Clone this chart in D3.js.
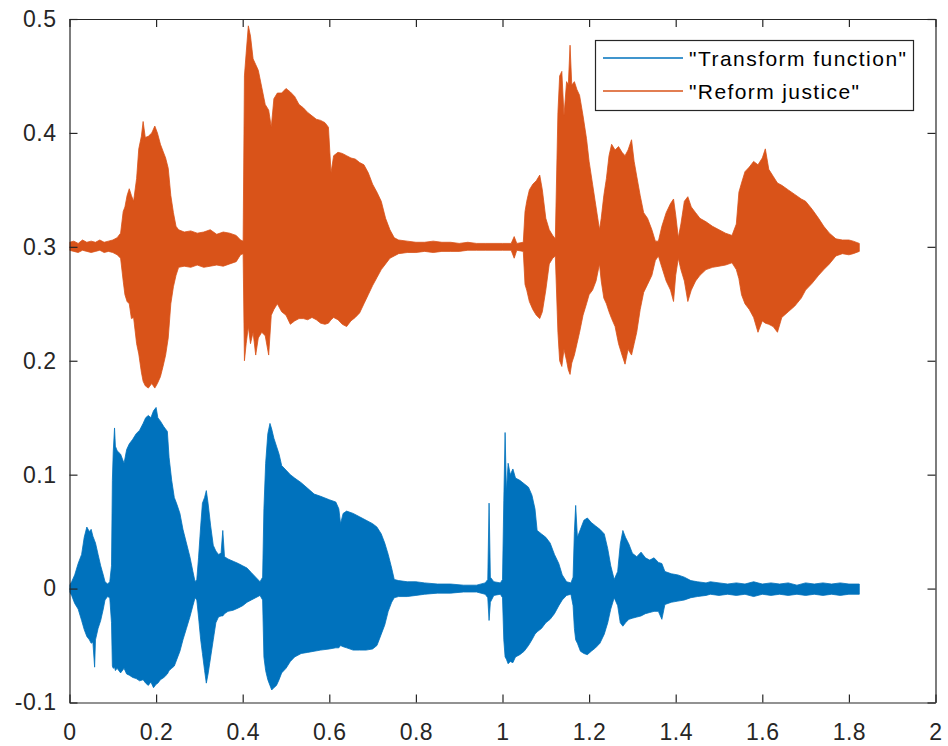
<!DOCTYPE html>
<html>
<head>
<meta charset="utf-8">
<script src="https://cdn.jsdelivr.net/npm/d3@7/dist/d3.min.js"></script>
<style>
  html, body { margin: 0; padding: 0; background: #fff; }
  svg { display: block; }
  text { font-family: "Liberation Sans", Arial, Helvetica, sans-serif; }
</style>
</head>
<body>
<svg id="chart" width="948" height="746"></svg>
<script>
// ---------------- DATA ----------------
// Series names
const seriesNames = ['"Transform function"', '"Reform justice"'];

// Blue series "Transform function": envelope (upper / lower) of the waveform
const blueT = [0.000,0.005,0.012,0.020,0.028,0.034,0.040,0.046,0.050,0.054,0.058,0.060,0.066,0.072,0.078,0.082,0.088,0.093,0.097,0.099,
0.101,0.104,0.106,0.110,0.118,0.126,0.132,0.138,0.146,0.154,0.162,0.170,0.176,0.182,0.188,0.194,0.200,0.204,0.210,0.218,
0.226,0.230,0.236,0.242,0.248,0.255,0.262,0.270,0.278,0.285,0.290,0.294,0.298,0.303,0.307,0.312,0.316,0.320,0.326,0.332,
0.338,0.344,0.350,0.354,0.358,0.366,0.378,0.390,0.400,0.410,0.420,0.430,0.440,0.446,0.449,0.453,0.458,0.463,0.467,0.472,
0.478,0.484,0.490,0.500,0.510,0.520,0.535,0.550,0.565,0.580,0.600,0.615,0.622,0.626,0.632,0.640,0.655,0.670,0.685,0.700,
0.710,0.720,0.728,0.736,0.744,0.750,0.760,0.780,0.800,0.820,0.850,0.880,0.910,0.940,0.960,0.966,0.969,0.972,0.980,0.995,
1.000,1.003,1.006,1.009,1.013,1.018,1.024,1.030,1.040,1.050,1.060,1.068,1.075,1.080,1.090,1.100,1.110,1.120,1.130,1.138,
1.148,1.158,1.163,1.166,1.169,1.173,1.180,1.188,1.196,1.205,1.215,1.225,1.235,1.243,1.250,1.258,1.266,1.272,1.278,1.284,
1.292,1.300,1.310,1.320,1.330,1.340,1.350,1.360,1.368,1.375,1.390,1.405,1.420,1.435,1.450,1.470,1.480,1.500,1.520,1.540,
1.560,1.580,1.600,1.620,1.640,1.660,1.680,1.700,1.720,1.740,1.760,1.780,1.800,1.824];
const blueHi = [0.003,0.006,0.012,0.022,0.030,0.045,0.054,0.050,0.052,0.046,0.042,0.040,0.030,0.020,0.012,0.006,0.004,0.006,0.020,0.095,
0.120,0.141,0.125,0.121,0.118,0.110,0.122,0.127,0.131,0.136,0.139,0.145,0.150,0.152,0.150,0.156,0.159,0.150,0.147,0.142,
0.138,0.115,0.095,0.080,0.074,0.066,0.052,0.040,0.028,0.015,0.006,0.008,0.027,0.055,0.075,0.080,0.086,0.075,0.055,0.038,
0.033,0.030,0.031,0.051,0.028,0.026,0.024,0.022,0.020,0.018,0.014,0.010,0.006,0.010,0.070,0.110,0.136,0.145,0.140,0.132,
0.125,0.118,0.108,0.104,0.100,0.097,0.093,0.088,0.083,0.081,0.078,0.076,0.070,0.057,0.066,0.068,0.066,0.063,0.060,0.057,
0.054,0.048,0.040,0.030,0.018,0.008,0.007,0.006,0.006,0.005,0.004,0.004,0.003,0.003,0.005,0.008,0.075,0.010,0.006,0.005,
0.008,0.077,0.137,0.085,0.110,0.100,0.105,0.097,0.095,0.092,0.089,0.082,0.070,0.051,0.048,0.045,0.040,0.030,0.022,0.012,
0.006,0.005,0.010,0.050,0.073,0.045,0.052,0.060,0.062,0.058,0.055,0.052,0.048,0.035,0.020,0.008,0.015,0.039,0.051,0.045,
0.039,0.031,0.028,0.032,0.027,0.025,0.027,0.023,0.022,0.015,0.013,0.012,0.010,0.007,0.006,0.005,0.006,0.005,0.004,0.005,
0.004,0.006,0.004,0.005,0.004,0.005,0.003,0.005,0.004,0.005,0.004,0.005,0.004,0.004];
const blueLo = [-0.003,-0.006,-0.013,-0.018,-0.028,-0.036,-0.042,-0.045,-0.048,-0.047,-0.069,-0.045,-0.035,-0.028,-0.018,-0.010,-0.007,-0.008,-0.030,-0.068,
-0.070,-0.069,-0.072,-0.070,-0.074,-0.070,-0.075,-0.076,-0.078,-0.079,-0.081,-0.080,-0.083,-0.085,-0.082,-0.087,-0.084,-0.083,-0.080,-0.078,
-0.075,-0.072,-0.070,-0.068,-0.062,-0.055,-0.045,-0.035,-0.025,-0.015,-0.008,-0.010,-0.025,-0.045,-0.057,-0.072,-0.083,-0.075,-0.060,-0.045,
-0.030,-0.025,-0.024,-0.024,-0.022,-0.020,-0.019,-0.017,-0.015,-0.012,-0.010,-0.008,-0.006,-0.010,-0.060,-0.072,-0.080,-0.085,-0.089,-0.087,
-0.085,-0.080,-0.074,-0.070,-0.064,-0.060,-0.057,-0.056,-0.055,-0.054,-0.053,-0.052,-0.052,-0.050,-0.051,-0.052,-0.054,-0.054,-0.054,-0.053,
-0.050,-0.040,-0.032,-0.020,-0.012,-0.008,-0.007,-0.007,-0.006,-0.005,-0.004,-0.004,-0.003,-0.003,-0.005,-0.008,-0.028,-0.012,-0.006,-0.005,
-0.008,-0.045,-0.060,-0.062,-0.066,-0.064,-0.065,-0.060,-0.058,-0.055,-0.050,-0.045,-0.040,-0.038,-0.035,-0.030,-0.027,-0.022,-0.015,-0.010,
-0.006,-0.005,-0.015,-0.035,-0.045,-0.048,-0.055,-0.057,-0.058,-0.055,-0.052,-0.048,-0.040,-0.030,-0.018,-0.008,-0.015,-0.030,-0.033,-0.030,
-0.027,-0.026,-0.025,-0.024,-0.022,-0.021,-0.020,-0.020,-0.027,-0.014,-0.012,-0.011,-0.010,-0.008,-0.007,-0.006,-0.005,-0.006,-0.005,-0.006,
-0.005,-0.007,-0.005,-0.006,-0.005,-0.006,-0.005,-0.006,-0.005,-0.006,-0.005,-0.006,-0.005,-0.005];

// Red series "Reform justice" (plotted with a 0.3 offset): envelope upper / lower
const redT = [0.000,0.010,0.020,0.030,0.040,0.050,0.060,0.070,0.080,0.090,0.100,0.110,0.118,0.124,0.128,0.133,0.138,0.143,0.148,0.155,
0.160,0.166,0.170,0.175,0.182,0.190,0.197,0.203,0.210,0.216,0.222,0.228,0.234,0.240,0.246,0.252,0.265,0.280,0.295,0.310,
0.325,0.340,0.355,0.370,0.385,0.395,0.401,0.404,0.408,0.413,0.418,0.424,0.430,0.436,0.444,0.452,0.460,0.466,0.472,0.480,
0.490,0.500,0.510,0.520,0.530,0.540,0.550,0.560,0.570,0.580,0.590,0.598,0.604,0.610,0.620,0.630,0.640,0.650,0.660,0.670,
0.680,0.690,0.700,0.710,0.720,0.730,0.740,0.750,0.760,0.780,0.800,0.820,0.840,0.860,0.880,0.900,0.920,0.940,0.960,1.000,
1.020,1.027,1.033,1.048,1.052,1.056,1.062,1.070,1.078,1.086,1.092,1.100,1.108,1.116,1.122,1.128,1.132,1.137,1.142,1.148,
1.152,1.156,1.160,1.166,1.172,1.178,1.186,1.194,1.200,1.208,1.216,1.224,1.228,1.234,1.240,1.246,1.252,1.260,1.268,1.276,
1.283,1.290,1.298,1.304,1.310,1.318,1.326,1.335,1.345,1.353,1.360,1.368,1.378,1.388,1.395,1.400,1.406,1.412,1.420,1.428,
1.436,1.446,1.456,1.470,1.485,1.500,1.515,1.530,1.540,1.546,1.552,1.560,1.570,1.580,1.590,1.600,1.607,1.615,1.625,1.635,
1.645,1.660,1.675,1.690,1.700,1.715,1.730,1.742,1.755,1.770,1.785,1.800,1.810,1.824];
const redHi = [0.304,0.305,0.303,0.306,0.304,0.305,0.304,0.306,0.304,0.305,0.306,0.308,0.312,0.331,0.335,0.345,0.351,0.345,0.340,0.360,
0.386,0.397,0.410,0.396,0.397,0.400,0.406,0.400,0.390,0.384,0.378,0.369,0.345,0.330,0.318,0.315,0.313,0.314,0.312,0.313,
0.315,0.311,0.313,0.312,0.310,0.306,0.305,0.450,0.470,0.494,0.485,0.465,0.460,0.455,0.440,0.425,0.420,0.405,0.430,0.435,
0.435,0.439,0.436,0.432,0.425,0.422,0.418,0.415,0.412,0.411,0.409,0.405,0.365,0.380,0.383,0.382,0.380,0.378,0.377,0.374,
0.372,0.365,0.355,0.348,0.340,0.325,0.315,0.308,0.306,0.305,0.304,0.304,0.305,0.304,0.304,0.303,0.304,0.303,0.303,0.303,
0.303,0.309,0.303,0.304,0.331,0.340,0.350,0.355,0.358,0.363,0.350,0.325,0.315,0.310,0.307,0.418,0.450,0.454,0.415,0.445,
0.442,0.477,0.442,0.445,0.438,0.433,0.415,0.395,0.375,0.355,0.335,0.315,0.325,0.345,0.360,0.380,0.390,0.385,0.388,0.383,
0.380,0.385,0.394,0.375,0.362,0.345,0.330,0.325,0.315,0.305,0.305,0.318,0.330,0.338,0.342,0.328,0.308,0.320,0.340,0.344,
0.335,0.330,0.325,0.322,0.318,0.315,0.312,0.310,0.320,0.348,0.356,0.366,0.370,0.375,0.372,0.378,0.386,0.368,0.362,0.356,
0.354,0.350,0.346,0.342,0.340,0.333,0.325,0.318,0.312,0.307,0.306,0.306,0.305,0.303];
const redLo = [0.297,0.296,0.295,0.297,0.296,0.295,0.296,0.297,0.295,0.296,0.295,0.293,0.290,0.270,0.258,0.252,0.250,0.237,0.238,0.215,
0.206,0.190,0.182,0.178,0.176,0.180,0.176,0.180,0.186,0.195,0.205,0.220,0.250,0.265,0.275,0.282,0.283,0.282,0.284,0.282,
0.283,0.284,0.283,0.285,0.287,0.293,0.294,0.200,0.215,0.230,0.215,0.225,0.205,0.220,0.225,0.222,0.205,0.240,0.245,0.250,
0.243,0.240,0.232,0.235,0.237,0.237,0.236,0.238,0.236,0.233,0.232,0.233,0.236,0.238,0.236,0.232,0.230,0.235,0.238,0.242,
0.250,0.258,0.266,0.273,0.280,0.285,0.290,0.292,0.294,0.295,0.295,0.296,0.295,0.296,0.296,0.296,0.297,0.297,0.297,0.297,
0.297,0.290,0.297,0.296,0.267,0.262,0.252,0.245,0.240,0.237,0.243,0.262,0.285,0.290,0.292,0.225,0.200,0.195,0.210,0.200,
0.192,0.188,0.198,0.205,0.215,0.225,0.240,0.250,0.258,0.262,0.270,0.285,0.270,0.255,0.250,0.243,0.237,0.230,0.215,0.205,
0.197,0.210,0.205,0.215,0.225,0.245,0.260,0.267,0.275,0.288,0.292,0.282,0.270,0.262,0.252,0.275,0.290,0.280,0.270,0.252,
0.262,0.270,0.275,0.280,0.282,0.283,0.284,0.286,0.280,0.272,0.258,0.250,0.245,0.238,0.225,0.235,0.233,0.232,0.230,0.225,
0.238,0.243,0.248,0.255,0.262,0.268,0.275,0.280,0.285,0.292,0.294,0.293,0.294,0.296];

// Axis ticks and labels
const xTicks = [0, 0.2, 0.4, 0.6, 0.8, 1, 1.2, 1.4, 1.6, 1.8, 2];
const xTickLabels = ["0", "0.2", "0.4", "0.6", "0.8", "1", "1.2", "1.4", "1.6", "1.8", "2"];
const yTicks = [-0.1, 0, 0.1, 0.2, 0.3, 0.4, 0.5];
const yTickLabels = ["-0.1", "0", "0.1", "0.2", "0.3", "0.4", "0.5"];

// ---------------- CHART ----------------
const W = 948, H = 746;
const margin = { left: 69.5, right: W - 935.5, top: 19, bottom: H - 702.5 };
const svg = d3.select("#chart");
const axisColor = "#262626";
const colors = ["#0072BD", "#D95319"];

const x = d3.scaleLinear().domain([0, 2]).range([margin.left, W - margin.right]);
const y = d3.scaleLinear().domain([-0.1, 0.5]).range([H - margin.bottom, margin.top]);

svg.append("rect").attr("width", W).attr("height", H).attr("fill", "#fff");

svg.append("defs").append("clipPath").attr("id", "plotclip")
  .append("rect").attr("x", x(0)).attr("y", y(0.5)).attr("width", x(2) - x(0)).attr("height", y(-0.1) - y(0.5));

const plot = svg.append("g").attr("clip-path", "url(#plotclip)");

function envelope(T, hi, lo) {
  return T.map((t, i) => ({ t: t, hi: hi[i], lo: lo[i] }));
}
const series = [envelope(blueT, blueHi, blueLo), envelope(redT, redHi, redLo)];

const area = d3.area()
  .x(d => x(d.t))
  .y0(d => y(d.lo))
  .y1(d => y(d.hi))
  .curve(d3.curveLinear);

series.forEach((s, i) => {
  plot.append("path")
    .datum(s)
    .attr("d", area)
    .attr("fill", colors[i])
    .attr("stroke", colors[i])
    .attr("stroke-width", 0.8)
    .attr("stroke-linejoin", "round");
});

// Axes (MATLAB box style: inward ticks on all four sides)
const fontSize = 23;
function styleAxis(g) {
  g.select(".domain").attr("stroke", axisColor).attr("stroke-width", 1.2);
  g.selectAll(".tick line").attr("stroke", axisColor).attr("stroke-width", 1.2);
  g.selectAll(".tick text").attr("fill", axisColor)
    .attr("font-size", fontSize).attr("font-family", '"Liberation Sans", Arial, sans-serif')
    .attr("letter-spacing", "0.5px");
}

const xAxisB = d3.axisBottom(x).tickValues(xTicks)
  .tickFormat((d, i) => xTickLabels[i]).tickSizeInner(-8).tickSizeOuter(0).tickPadding(21);
svg.append("g").attr("transform", `translate(0,${y(-0.1)})`).call(xAxisB).call(styleAxis);

const xAxisT = d3.axisTop(x).tickValues(xTicks).tickFormat("").tickSizeInner(-8).tickSizeOuter(0);
svg.append("g").attr("transform", `translate(0,${y(0.5)})`).call(xAxisT).call(styleAxis);

const yAxisL = d3.axisLeft(y).tickValues(yTicks)
  .tickFormat((d, i) => yTickLabels[i]).tickSizeInner(-8).tickSizeOuter(0).tickPadding(13);
svg.append("g").attr("transform", `translate(${x(0)},0)`).call(yAxisL).call(styleAxis);

const yAxisR = d3.axisRight(y).tickValues(yTicks).tickFormat("").tickSizeInner(-8).tickSizeOuter(0);
svg.append("g").attr("transform", `translate(${x(2)},0)`).call(yAxisR).call(styleAxis);

// Legend
const legend = svg.append("g");
legend.append("rect")
  .attr("x", 595.5).attr("y", 40.5).attr("width", 318).attr("height", 70)
  .attr("fill", "#fff").attr("stroke", axisColor).attr("stroke-width", 1.2);
const legendRows = [58, 91];
const legendWidths = [217, 170];
seriesNames.forEach((name, i) => {
  legend.append("line")
    .attr("x1", 603).attr("x2", 683)
    .attr("y1", legendRows[i]).attr("y2", legendRows[i])
    .attr("stroke", colors[i]).attr("stroke-width", 1.5);
  legend.append("text")
    .attr("x", 689).attr("y", legendRows[i]).attr("dy", "0.36em")
    .attr("font-size", 21).attr("fill", "#000")
    .attr("textLength", legendWidths[i]).attr("lengthAdjust", "spacing")
    .text(name);
});
</script>
</body>
</html>
